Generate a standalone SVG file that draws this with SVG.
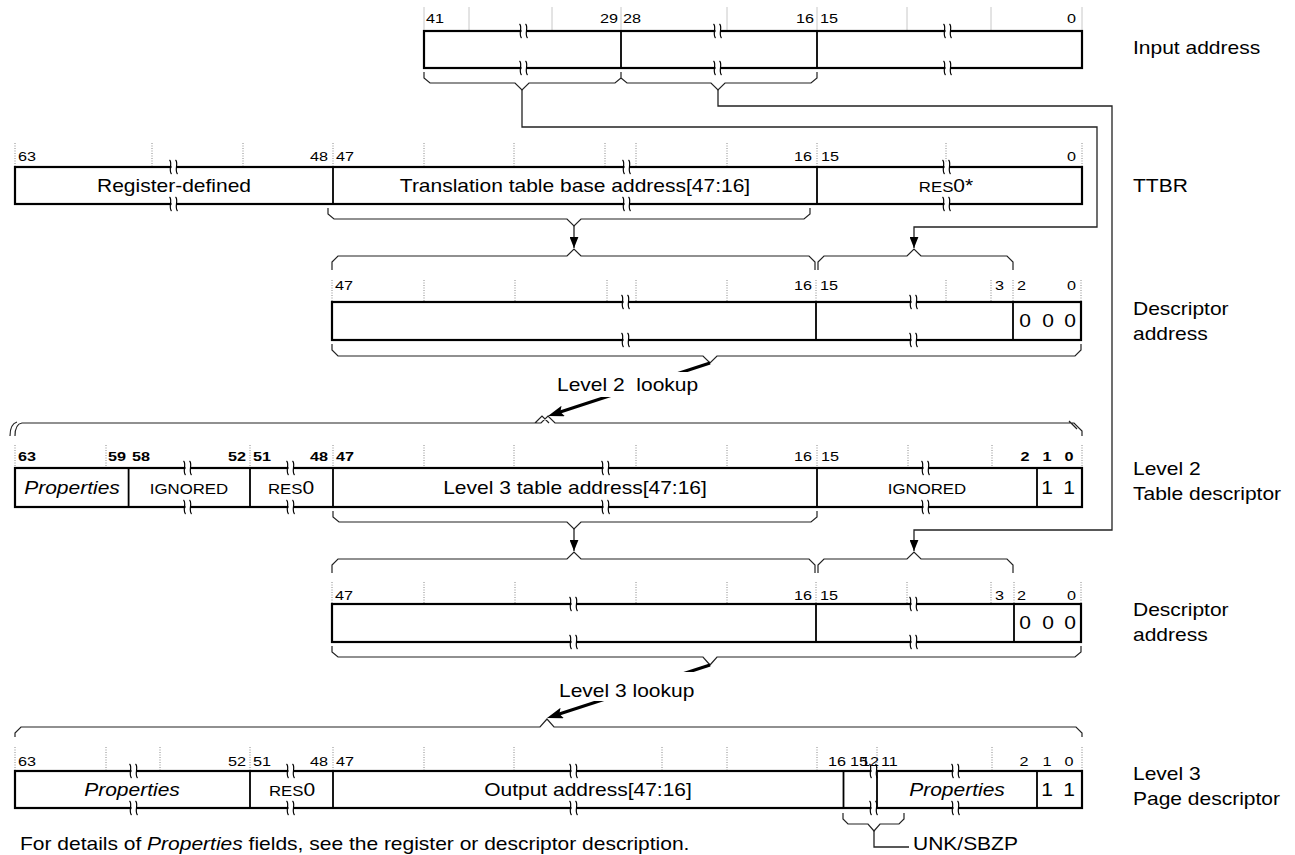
<svg xmlns="http://www.w3.org/2000/svg" width="1295" height="855" viewBox="0 0 1295 855">
<style>
text{font-family:"Liberation Sans",Arial,sans-serif;fill:#000}
.n{font-size:13.5px}
.b{font-weight:bold}
.t{font-size:17.5px}
.s{font-size:14px}
.i{font-style:italic}
.m{text-anchor:middle}
.e{text-anchor:end}
.box{fill:#fff;stroke:#000;stroke-width:2.2}
.dv{fill:none;stroke:#000;stroke-width:1.8}
.tk{fill:none;stroke:#888;stroke-width:1;stroke-dasharray:1 1.5}
.tk1{fill:none;stroke:#c8c8c8;stroke-width:1}
.br{fill:none;stroke:#222;stroke-width:1.2}
.cn{fill:none;stroke:#222;stroke-width:1.3}
.lk{fill:none;stroke:#000;stroke-width:3}
</style>
<defs>
<g id="bk"><rect x="-2.5" y="-4" width="5" height="8" fill="#fff"/><path d="M-4.5,-7 C-1,-4 -6,3 -2.5,7 M1.5,-7 C5,-4 0,3 3.5,7" fill="none" stroke="#000" stroke-width="1.2"/></g>
<marker id="a" viewBox="0 0 10 8" refX="10" refY="4" markerWidth="11" markerHeight="9" markerUnits="userSpaceOnUse" orient="auto"><path d="M0,0L10,4L0,8z" fill="#000"/></marker>
<marker id="A" viewBox="0 0 16 11" refX="8" refY="5.5" markerWidth="16" markerHeight="11" markerUnits="userSpaceOnUse" orient="auto"><path d="M0,0L16,5.5L0,11L3,5.5z" fill="#000"/></marker>
</defs>

<g id="input-address">
<path class="tk1" d="M424,7V31M469,7V31M552,7V31M621,7V31M727,7V31M817,7V31M907,7V31M991,7V31M1082,7V31"/>
<text class="n" transform="matrix(1.2 0 0 1 426 23)">41</text>
<text class="n e" transform="matrix(1.2 0 0 1 618 23)">29</text>
<text class="n" transform="matrix(1.2 0 0 1 623 23)">28</text>
<text class="n e" transform="matrix(1.2 0 0 1 814 23)">16</text>
<text class="n" transform="matrix(1.2 0 0 1 820 23)">15</text>
<text class="n e" transform="matrix(1.2 0 0 1 1076 23)">0</text>
<rect class="box" x="424" y="31" width="658" height="37"/>
<path class="dv" d="M621,31V68M817,31V68"/>
<use href="#bk" x="524" y="31"/><use href="#bk" x="524" y="68"/>
<use href="#bk" x="718" y="31"/><use href="#bk" x="718" y="68"/>
<use href="#bk" x="948" y="31"/><use href="#bk" x="948" y="68"/>
<text class="t" transform="matrix(1.2 0 0 1 1133 54)">Input address</text>
</g>

<g id="ttbr">
<path class="tk" d="M15,143V167M152,143V167M243,143V167M333,143V167M424,143V167M514,143V167M605,143V167M636,143V167M727,143V167M817,143V167M946,143V167M1082,143V167"/>
<text class="n" transform="matrix(1.2 0 0 1 18 161)">63</text>
<text class="n e" transform="matrix(1.2 0 0 1 328 161)">48</text>
<text class="n" transform="matrix(1.2 0 0 1 336 161)">47</text>
<text class="n e" transform="matrix(1.2 0 0 1 812 161)">16</text>
<text class="n" transform="matrix(1.2 0 0 1 821 161)">15</text>
<text class="n e" transform="matrix(1.2 0 0 1 1076 161)">0</text>
<rect class="box" x="15" y="167" width="1067" height="37"/>
<path class="dv" d="M333,167V204M817,167V204"/>
<use href="#bk" x="174" y="167"/><use href="#bk" x="174" y="204"/>
<use href="#bk" x="627" y="167"/><use href="#bk" x="627" y="204"/>
<use href="#bk" x="947" y="167"/><use href="#bk" x="947" y="204"/>
<text class="t m" transform="matrix(1.2 0 0 1 174 192)">Register-defined</text>
<text class="t m" transform="matrix(1.2 0 0 1 575 192)">Translation table base address[47:16]</text>
<text class="t m" transform="matrix(1.2 0 0 1 946 192)"><tspan class="s">RES</tspan>0*</text>
<text class="t" transform="matrix(1.2 0 0 1 1133 192)">TTBR</text>
</g>

<g id="descriptor-address-1">
<path class="tk" d="M332,280V302M424,280V302M515,280V302M607,280V302M636,280V302M727,280V302M816,280V302M946,280V302M991,280V302M1013,280V302M1081,280V302"/>
<text class="n" transform="matrix(1.2 0 0 1 335 290)">47</text>
<text class="n e" transform="matrix(1.2 0 0 1 812 290)">16</text>
<text class="n" transform="matrix(1.2 0 0 1 820 290)">15</text>
<text class="n e" transform="matrix(1.2 0 0 1 1004 290)">3</text>
<text class="n" transform="matrix(1.2 0 0 1 1017 290)">2</text>
<text class="n e" transform="matrix(1.2 0 0 1 1076 290)">0</text>
<rect class="box" x="332" y="302" width="749" height="38"/>
<path class="dv" d="M816,302V340M1013,302V340"/>
<use href="#bk" x="626" y="302"/><use href="#bk" x="626" y="340"/>
<use href="#bk" x="914" y="302"/><use href="#bk" x="914" y="340"/>
<text class="t m" transform="matrix(1.2 0 0 1 1025 327)">0</text>
<text class="t m" transform="matrix(1.2 0 0 1 1048 327)">0</text>
<text class="t m" transform="matrix(1.2 0 0 1 1070 327)">0</text>
<text class="t" transform="matrix(1.2 0 0 1 1133 315)">Descriptor</text>
<text class="t" transform="matrix(1.2 0 0 1 1133 340)">address</text>
</g>

<g id="level2-table-descriptor">
<path class="tk" d="M15,445V468M106,445V468M250,445V468M333,445V468M424,445V468M514,445V468M636,445V468M727,445V468M817,445V468M908,445V468M992,445V468M1082,445V468"/>
<text class="n b" transform="matrix(1.2 0 0 1 18 461)">63</text>
<text class="n b" transform="matrix(1.2 0 0 1 108 461)">59</text>
<text class="n b" transform="matrix(1.2 0 0 1 132 461)">58</text>
<text class="n b e" transform="matrix(1.2 0 0 1 246 461)">52</text>
<text class="n b" transform="matrix(1.2 0 0 1 253 461)">51</text>
<text class="n b e" transform="matrix(1.2 0 0 1 328 461)">48</text>
<text class="n b" transform="matrix(1.2 0 0 1 336 461)">47</text>
<text class="n e" transform="matrix(1.2 0 0 1 812 461)">16</text>
<text class="n" transform="matrix(1.2 0 0 1 821 461)">15</text>
<text class="n b m" transform="matrix(1.2 0 0 1 1025 461)">2</text>
<text class="n b m" transform="matrix(1.2 0 0 1 1047 461)">1</text>
<text class="n b m" transform="matrix(1.2 0 0 1 1069 461)">0</text>
<rect class="box" x="15" y="468" width="1067" height="39"/>
<path class="dv" d="M128.6,468V507M250,468V507M333,468V507M817,468V507M1037,468V507"/>
<use href="#bk" x="188" y="468"/><use href="#bk" x="188" y="507"/>
<use href="#bk" x="291" y="468"/><use href="#bk" x="291" y="507"/>
<use href="#bk" x="606" y="468"/><use href="#bk" x="606" y="507"/>
<use href="#bk" x="926" y="468"/><use href="#bk" x="926" y="507"/>
<text class="t m i" transform="matrix(1.2 0 0 1 72 494)">Properties</text>
<text class="s m" transform="matrix(1.2 0 0 1 189 494)">IGNORED</text>
<text class="t m" transform="matrix(1.2 0 0 1 291 494)"><tspan class="s">RES</tspan>0</text>
<text class="t m" transform="matrix(1.2 0 0 1 575 494)">Level 3 table address[47:16]</text>
<text class="s m" transform="matrix(1.2 0 0 1 927 494)">IGNORED</text>
<text class="t m" transform="matrix(1.2 0 0 1 1047 494)">1</text>
<text class="t m" transform="matrix(1.2 0 0 1 1069 494)">1</text>
<text class="t" transform="matrix(1.2 0 0 1 1133 475)">Level 2</text>
<text class="t" transform="matrix(1.2 0 0 1 1133 500)">Table descriptor</text>
</g>

<g id="descriptor-address-2">
<path class="tk" d="M332,582V604M424,582V604M515,582V604M636,582V604M727,582V604M816,582V604M907,582V604M991,582V604M1014,582V604M1081,582V604"/>
<text class="n" transform="matrix(1.2 0 0 1 335 600)">47</text>
<text class="n e" transform="matrix(1.2 0 0 1 812 600)">16</text>
<text class="n" transform="matrix(1.2 0 0 1 820 600)">15</text>
<text class="n e" transform="matrix(1.2 0 0 1 1004 600)">3</text>
<text class="n" transform="matrix(1.2 0 0 1 1017 600)">2</text>
<text class="n e" transform="matrix(1.2 0 0 1 1076 600)">0</text>
<rect class="box" x="332" y="604" width="749" height="38"/>
<path class="dv" d="M816,604V642M1014,604V642"/>
<use href="#bk" x="574" y="604"/><use href="#bk" x="574" y="642"/>
<use href="#bk" x="914" y="604"/><use href="#bk" x="914" y="642"/>
<text class="t m" transform="matrix(1.2 0 0 1 1025 629)">0</text>
<text class="t m" transform="matrix(1.2 0 0 1 1048 629)">0</text>
<text class="t m" transform="matrix(1.2 0 0 1 1070 629)">0</text>
<text class="t" transform="matrix(1.2 0 0 1 1133 616)">Descriptor</text>
<text class="t" transform="matrix(1.2 0 0 1 1133 641)">address</text>
</g>

<g id="level3-page-descriptor">
<path class="tk" d="M15,747V771M106,747V771M160,747V771M250,747V771M333,747V771M424,747V771M514,747V771M662,747V771M727,747V771M817,747V771M877,747V771M992,747V771M1082,747V771"/>
<text class="n" transform="matrix(1.2 0 0 1 18 766)">63</text>
<text class="n e" transform="matrix(1.2 0 0 1 246 766)">52</text>
<text class="n" transform="matrix(1.2 0 0 1 253 766)">51</text>
<text class="n e" transform="matrix(1.2 0 0 1 328 766)">48</text>
<text class="n" transform="matrix(1.2 0 0 1 336 766)">47</text>
<text class="n e" transform="matrix(1.2 0 0 1 846 766)">16</text>
<text class="n" transform="matrix(1.2 0 0 1 850 766)">15</text>
<text class="n" transform="matrix(1.2 0 0 1 861 766)">12</text>
<text class="n" transform="matrix(1.2 0 0 1 881 766)">11</text>
<text class="n m" transform="matrix(1.2 0 0 1 1024 766)">2</text>
<text class="n m" transform="matrix(1.2 0 0 1 1047 766)">1</text>
<text class="n m" transform="matrix(1.2 0 0 1 1069 766)">0</text>
<rect class="box" x="15" y="771" width="1067" height="37"/>
<path class="dv" d="M250,771V808M333,771V808M843.5,771V808M877,771V808M1037,771V808"/>
<use href="#bk" x="134" y="771"/><use href="#bk" x="134" y="808"/>
<use href="#bk" x="291" y="771"/><use href="#bk" x="291" y="808"/>
<use href="#bk" x="574" y="771"/><use href="#bk" x="574" y="808"/>
<use href="#bk" x="874" y="771"/><use href="#bk" x="874" y="808"/>
<use href="#bk" x="956" y="771"/><use href="#bk" x="956" y="808"/>
<text class="t m i" transform="matrix(1.2 0 0 1 132 796)">Properties</text>
<text class="t m" transform="matrix(1.2 0 0 1 292 796)"><tspan class="s">RES</tspan>0</text>
<text class="t m" transform="matrix(1.2 0 0 1 588 796)">Output address[47:16]</text>
<text class="t m i" transform="matrix(1.2 0 0 1 957 796)">Properties</text>
<text class="t m" transform="matrix(1.2 0 0 1 1047 796)">1</text>
<text class="t m" transform="matrix(1.2 0 0 1 1069 796)">1</text>
<text class="t" transform="matrix(1.2 0 0 1 1133 780)">Level 3</text>
<text class="t" transform="matrix(1.2 0 0 1 1133 805)">Page descriptor</text>
</g>

<g id="connectors">
<path class="br" d="M424,72V78L430,83H515L522,90L529,83H615L621,78V72M621,72V78L627,83H711L718,90L725,83H811L817,78V72"/>
<path class="br" d="M328,208V214L334,219H567L574,226L581,219H804L810,214V208"/>
<path class="br" d="M332,270V262L338,256H567L574,249L581,256H809L815,262V270M818,270V262L824,256H907L914,249L921,256H1007L1013,262V270"/>
<path class="br" d="M332,344V350L338,356H703L710,363L717,356H1075L1081,350V344"/>
<path class="br" d="M15,436Q15,424 22,423H541L548,416L555,423H1074L1082,431V436M10,436Q10,424 17,422M535,423L542,416L549,423M1069,421L1077,429"/>
<path class="br" d="M333,511V517L339,522H567L574,529L581,522H811L817,517V511"/>
<path class="br" d="M332,573V565L338,559H567L574,552L581,559H809L815,565V573M818,573V565L824,559H907L914,552L921,559H1007L1013,565V573"/>
<path class="br" d="M332,646V652L338,657H703L710,665L717,657H1075L1081,652V646"/>
<path class="br" d="M15,737V733L21,727H540L547,719L554,727H1076L1082,733V737"/>
<path class="br" d="M843,813V819L848,824H868L874,831L880,824H899L904,819V813"/>
<path class="cn" d="M874,831V847H909"/>
<path class="cn" marker-end="url(#a)" d="M522,90V127H1097V227H914V248"/>
<path class="cn" marker-end="url(#a)" d="M718,90V106H1112V530H914V551"/>
<path class="cn" marker-end="url(#a)" d="M574,226V248"/>
<path class="cn" marker-end="url(#a)" d="M574,529V551"/>
<path class="lk" marker-end="url(#A)" d="M710,363L555.6,413.5"/>
<path class="lk" marker-end="url(#A)" d="M710,665L554.6,715.5"/>
<rect x="555" y="372" width="145" height="25" fill="#fff"/>
<rect x="557" y="672" width="142" height="29" fill="#fff"/>
<text class="t" xml:space="preserve" transform="matrix(1.2 0 0 1 557 391)">Level 2  lookup</text>
<text class="t" transform="matrix(1.2 0 0 1 559 697)">Level 3 lookup</text>
<text class="t" transform="matrix(1.2 0 0 1 913 850)">UNK/SBZP</text>
</g>

<text class="t" transform="matrix(1.2 0 0 1 20 850)">For details of <tspan class="i">Properties</tspan> fields, see the register or descriptor description.</text>
</svg>
